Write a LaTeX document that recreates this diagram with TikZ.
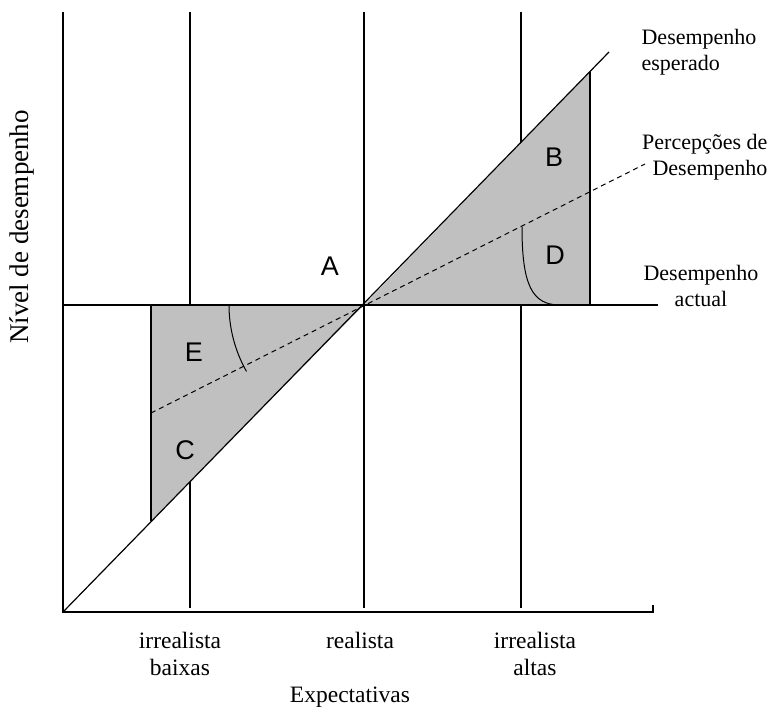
\documentclass[tikz,border=0pt]{standalone}
\usepackage{fontspec}
\setmainfont{Liberation Serif}
\newfontfamily\regionfont{Liberation Sans}
\begin{document}
\begin{tikzpicture}[x=1pt,y=-1pt,line width=1.2pt,
  linelabel/.style={font=\fontsize{22}{26}\selectfont,inner sep=0pt,anchor=base},
  ticklabel/.style={font=\fontsize{23.5}{27}\selectfont,inner sep=0pt,anchor=base},
  regionlabel/.style={font=\regionfont\fontsize{27}{30}\selectfont,inner sep=0pt},
  shaded/.style={fill={rgb,255:red,192;green,192;blue,192}},
  perception/.style={dash pattern=on 5pt off 4pt,line width=1pt}]
\useasboundingbox (0,0) rectangle (769,711);

% key points
\coordinate (O) at (63,612);
\coordinate (M) at (364,305);
\coordinate (Etop) at (609,52);
\coordinate (Ptop) at (645,164);
\coordinate (Plow) at (151,413);
\coordinate (BR) at (590,72);
\coordinate (BRb) at (590,305);
\coordinate (CL) at (151,305);
\coordinate (CLb) at (151,521);

% expectation gridlines
\foreach \x/\n in {190/lo,364/mid,521/hi}{
  \coordinate (top\n) at (\x,12);
  \coordinate (bot\n) at (\x,608);
  \draw (top\n) -- (bot\n);
}

% shaded gaps
\fill[shaded] (M) -- (BR) -- (BRb) -- cycle;
\fill[shaded] (CL) -- (M) -- (CLb) -- cycle;
\draw (BR) -- (BRb);
\draw (CL) -- (CLb);

% axes
\coordinate (Ytop) at (63,12);
\coordinate (Xend) at (653,612);
\coordinate (Xtick) at (653,605);
\draw (Ytop) -- (O) -- (Xend) -- (Xtick);

% actual performance
\coordinate (Aleft) at (63,305);
\coordinate (Aright) at (658,305);
\draw (Aleft) -- (Aright);

% expected performance
\draw (O) -- (Etop);

% perceived performance
\draw[perception] (Plow) -- (Ptop);

% angle marks
\draw[line width=1pt] (522,227) .. controls (522,285) and (532,305) .. (560,305);
\draw[line width=1pt] (229,305) arc[start angle=180,end angle=150.5,radius=135];

% region letters
\node[regionlabel] (A) at (330,266) {A};
\node[regionlabel] (B) at (554,157) {B};
\node[regionlabel] (D) at (555,255) {D};
\node[regionlabel] (E) at (194,352) {E};
\node[regionlabel] (C) at (185,450) {C};

% line labels
\node[linelabel,anchor=base west] (lesp1) at (641,45) {Desempenho};
\node[linelabel,anchor=base west] (lesp2) at (641,71) {esperado};
\node[linelabel,anchor=base east] (lperc1) at (768,150) {Percepções de};
\node[linelabel,anchor=base east] (lperc2) at (768,176) {Desempenho};
\node[linelabel] (lact1) at (701,281) {Desempenho};
\node[linelabel] (lact2) at (701,307) {actual};

% axis labels
\node[ticklabel] (xlo1) at (180,648) {irrealista};
\node[ticklabel] (xlo2) at (180,675) {baixas};
\node[ticklabel] (xmid) at (360,648) {realista};
\node[ticklabel] (xhi1) at (535,648) {irrealista};
\node[ticklabel] (xhi2) at (535,675) {altas};
\node[ticklabel] (xt) at (350,702) {Expectativas};
\node[font=\fontsize{27}{30}\selectfont,inner sep=0pt,rotate=90] (yt) at (22,227) {Nível de desempenho};
\end{tikzpicture}
\end{document}
